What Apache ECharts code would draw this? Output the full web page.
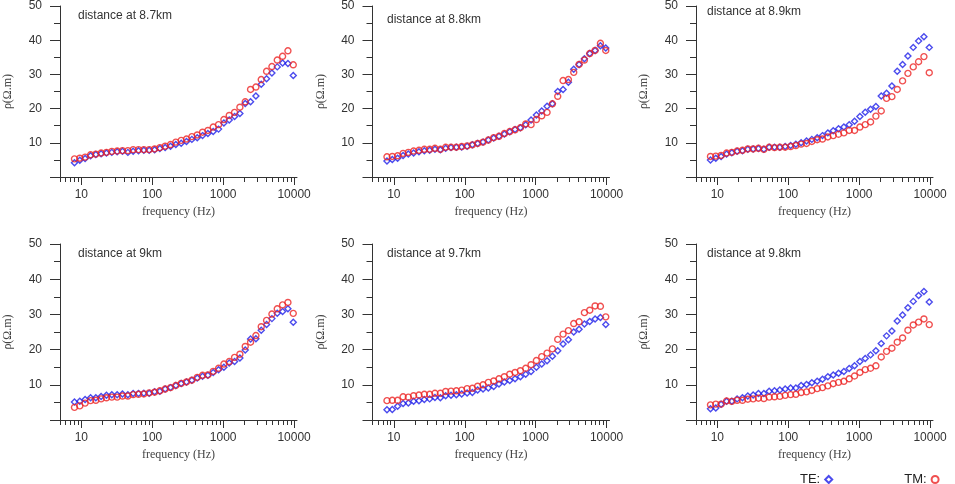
<!DOCTYPE html>
<html>
<head>
<meta charset="utf-8">
<script src="https://cdn.jsdelivr.net/npm/echarts@6/dist/echarts.min.js"></script>
<style>
  html, body { margin: 0; padding: 0; background: #fff; }
  #chart { width: 955px; height: 484px; }
</style>
</head>
<body>
<div id="chart"></div>
<script>
// frequencies (Hz), shared by every panel
const freq = [8, 9.51, 11.3, 13.5, 16, 19, 22.6, 26.9, 32, 38, 45.3, 53.8, 64, 76.1, 90.5, 108, 128, 152, 181, 215,
  256, 304, 362, 431, 512, 609, 724, 861, 1024, 1218, 1448, 1722, 2048, 2435, 2896, 3444, 4096, 4871, 5793, 6889, 8192, 9742]

const titles = ['distance at 8.7km', 'distance at 8.8km', 'distance at 8.9km',
  'distance at 9km', 'distance at 9.7km', 'distance at 9.8km']

// apparent resistivity, TE mode
const te87 = [4.2, 4.9, 5.4, 6.2, 6.6, 6.8, 7.0, 7.2, 7.4, 7.5, 7.2, 7.5, 7.7, 7.8, 7.8, 8.0, 8.3, 8.6, 9.0, 9.5,
  9.9, 10.4, 11.0, 11.5, 12.1, 12.7, 13.3, 14.0, 15.8, 16.7, 17.7, 18.6, 21.5, 22.0, 23.7, 27.1, 28.7, 30.4, 32.2, 33.3, 33.2, 29.7]
const te88 = [4.7, 5.1, 5.5, 6.3, 6.7, 7.0, 7.4, 7.7, 7.8, 8.1, 8.0, 8.4, 8.6, 8.7, 8.8, 9.0, 9.4, 9.8, 10.2, 10.8,
  11.4, 11.9, 12.6, 13.2, 13.9, 14.4, 15.3, 16.7, 18.1, 19.3, 20.7, 21.4, 25.0, 25.6, 27.7, 31.5, 32.9, 34.6, 36.1, 37.0, 38.4, 37.7]
const te89 = [5.0, 5.5, 6.0, 6.7, 7.1, 7.5, 7.7, 8.1, 8.2, 8.3, 8.1, 8.7, 8.7, 8.7, 8.9, 9.2, 9.6, 10.0, 10.5, 11.0,
  11.5, 12.1, 12.9, 13.5, 14.1, 14.6, 15.3, 16.3, 17.7, 18.9, 19.8, 20.6, 23.7, 24.5, 26.6, 30.9, 32.9, 35.4, 37.9, 39.8, 41.0, 37.9]
const te90 = [5.1, 5.3, 5.8, 6.3, 6.3, 6.7, 7.0, 7.2, 7.2, 7.4, 7.2, 7.5, 7.5, 7.6, 7.6, 8.0, 8.2, 8.8, 9.2, 9.8,
  10.4, 10.8, 11.3, 11.9, 12.4, 12.7, 13.5, 14.3, 15.0, 16.2, 16.6, 17.6, 19.9, 23.0, 23.1, 25.5, 27.1, 28.8, 30.3, 30.8, 31.6, 27.8]
const te97 = [2.9, 3.0, 3.9, 4.7, 4.8, 5.3, 5.5, 5.8, 6.0, 6.4, 6.3, 6.9, 7.0, 7.2, 7.4, 7.7, 7.8, 8.5, 8.8, 9.1,
  9.5, 10.2, 10.8, 11.2, 11.7, 12.3, 13.0, 13.8, 15.0, 15.9, 16.8, 18.1, 19.7, 21.6, 22.8, 25.0, 25.8, 27.3, 28.0, 28.7, 29.1, 27.1]
const te98 = [3.2, 3.4, 4.5, 5.3, 5.3, 6.0, 6.3, 6.8, 7.1, 7.5, 7.5, 8.2, 8.3, 8.5, 8.8, 9.1, 9.1, 9.8, 10.1, 10.6,
  11.0, 11.6, 12.3, 12.8, 13.3, 13.8, 14.6, 15.4, 16.6, 17.5, 18.5, 19.7, 21.7, 23.9, 25.3, 28.1, 29.8, 31.9, 33.7, 35.4, 36.5, 33.5]

// apparent resistivity, TM mode
const tm87 = [5.3, 5.5, 5.8, 6.5, 6.7, 7.0, 7.2, 7.5, 7.6, 7.7, 7.7, 8.0, 8.0, 8.0, 8.0, 8.2, 8.6, 9.0, 9.5, 10.2,
  10.7, 11.1, 11.8, 12.3, 13.1, 13.6, 14.6, 15.3, 16.8, 18.0, 18.9, 20.4, 22.0, 25.6, 26.3, 28.5, 30.9, 32.3, 34.2, 35.3, 36.9, 32.8]
const tm88 = [5.9, 6.0, 6.2, 6.9, 7.2, 7.6, 7.8, 8.1, 8.1, 8.4, 8.1, 8.7, 8.7, 8.7, 8.9, 9.1, 9.4, 9.8, 10.2, 10.8,
  11.5, 11.9, 12.7, 13.3, 13.8, 14.4, 15.5, 15.3, 16.8, 17.9, 18.9, 21.4, 23.6, 28.2, 28.5, 30.6, 32.9, 34.2, 36.1, 37.0, 39.1, 37.0]
const tm89 = [6.0, 6.1, 6.3, 7.0, 7.2, 7.6, 7.8, 8.2, 8.2, 8.4, 8.1, 8.7, 8.6, 8.7, 8.7, 8.9, 9.2, 9.6, 9.8, 10.4,
  10.9, 11.1, 11.7, 12.1, 12.5, 12.9, 13.6, 13.6, 14.6, 15.3, 16.1, 17.8, 19.3, 23.0, 23.5, 25.6, 28.1, 30.3, 32.2, 33.7, 35.2, 30.5]
const tm90 = [3.6, 4.0, 4.8, 5.5, 5.6, 6.0, 6.3, 6.5, 6.5, 6.8, 6.8, 7.2, 7.3, 7.4, 7.7, 7.9, 8.3, 8.8, 9.2, 9.8,
  10.4, 10.8, 11.3, 12.1, 12.7, 12.8, 13.8, 14.7, 15.9, 16.6, 17.8, 18.7, 20.9, 22.1, 24.0, 26.5, 28.3, 30.1, 31.6, 32.7, 33.4, 30.3]
const tm97 = [5.5, 5.6, 5.6, 6.6, 6.5, 6.9, 7.1, 7.3, 7.3, 7.6, 7.6, 8.1, 8.2, 8.3, 8.5, 8.9, 9.0, 9.6, 10.0, 10.7,
  11.1, 11.7, 12.3, 13.0, 13.5, 14.0, 14.7, 15.7, 16.9, 18.0, 19.0, 20.2, 22.9, 24.4, 25.4, 27.4, 27.9, 30.5, 31.2, 32.4, 32.3, 29.3]
const tm98 = [4.3, 4.5, 4.5, 5.4, 5.3, 5.6, 5.6, 5.9, 6.0, 6.2, 6.1, 6.5, 6.6, 6.7, 7.0, 7.2, 7.3, 7.8, 8.0, 8.4,
  8.9, 9.2, 9.7, 10.3, 10.7, 11.0, 11.7, 12.5, 13.5, 14.3, 14.7, 15.4, 17.9, 19.5, 20.4, 22.1, 23.3, 25.5, 27.0, 27.8, 28.7, 27.1]

const teSets = [te87, te88, te89, te90, te97, te98]
const tmSets = [tm87, tm88, tm89, tm90, tm97, tm98]

// axis ticks
const xMajor = [10, 100, 1000, 10000]
const xMinor = [5, 6, 7, 8, 9, 20, 30, 40, 50, 60, 70, 80, 90, 200, 300, 400, 500, 600, 700, 800, 900,
  2000, 3000, 4000, 5000, 6000, 7000, 8000, 9000]

// layout
const gridLefts = [60, 372.5, 696]
const gridTops = [2, 244]
const gridHeights = [175, 176]
const gridWidth = 237
const titlePos = [[78, 10], [387, 14], [707, 6], [78, 248], [387, 248], [707, 248]]

const TE_COLOR = '#1e1ee8'
const TM_COLOR = '#ec2424'
const SANS = "'Liberation Sans', Arial, sans-serif"
const SERIF = "'Liberation Serif', 'Times New Roman', serif"

const chart = echarts.init(document.getElementById('chart'), null, { renderer: 'canvas' })

const grid = [], xAxis = [], yAxis = [], series = [], title = []

for (let i = 0; i < 6; i++) {
  const row = Math.floor(i / 3), col = i % 3
  grid.push({ left: gridLefts[col], top: gridTops[row], width: gridWidth, height: gridHeights[row] })

  title.push({
    text: titles[i], left: titlePos[i][0], top: titlePos[i][1], padding: 0,
    textStyle: { fontFamily: SANS, fontSize: 12, fontWeight: 'normal', color: '#333' }
  })

  // main log axis: decades + labels
  xAxis.push({
    type: 'log', logBase: 10, gridIndex: i, min: 5, max: 11000, position: 'bottom',
    axisLine: { show: true, lineStyle: { color: '#333', width: 1 } },
    axisTick: { show: true, length: 8, customValues: xMajor, lineStyle: { color: '#333' } },
    axisLabel: {
      fontFamily: SANS, fontSize: 12, color: '#333', margin: 12,
      customValues: xMajor,
      formatter: v => String(Math.round(v))
    },
    splitLine: { show: false },
    name: 'frequency (Hz)', nameLocation: 'middle', nameGap: 29,
    nameTextStyle: { fontFamily: SERIF, fontSize: 12, color: '#444' }
  })
  // second log axis only for the 2..9 minor ticks
  xAxis.push({
    type: 'log', logBase: 10, gridIndex: i, min: 5, max: 11000, position: 'bottom',
    axisLine: { show: false },
    axisTick: { show: true, length: 5, customValues: xMinor, lineStyle: { color: '#333' } },
    axisLabel: { show: false },
    splitLine: { show: false }
  })

  yAxis.push({
    type: 'value', gridIndex: i, min: 0, max: 50, interval: 10,
    axisLine: { show: true, lineStyle: { color: '#333', width: 1 } },
    axisTick: { show: true, length: 10, lineStyle: { color: '#333' } },
    minorTick: { show: true, splitNumber: 2, length: 6, lineStyle: { color: '#333' } },
    axisLabel: {
      fontFamily: SANS, fontSize: 12, color: '#333', margin: 18,
      formatter: v => v === 0 ? '' : String(v)
    },
    splitLine: { show: false },
    name: 'ρ(Ω.m)', nameLocation: 'middle', nameGap: 46,
    nameTextStyle: { fontFamily: SERIF, fontSize: 12, color: '#444' }
  })

  series.push({
    name: 'TE:', type: 'scatter', xAxisIndex: 2 * i, yAxisIndex: i,
    symbol: 'diamond', symbolSize: 6,
    itemStyle: { color: 'rgba(0,0,0,0)', borderColor: TE_COLOR, borderWidth: 1.4 },
    data: freq.map((f, k) => [f, teSets[i][k]])
  })
  series.push({
    name: 'TM:', type: 'scatter', xAxisIndex: 2 * i, yAxisIndex: i,
    symbol: 'circle', symbolSize: 6,
    itemStyle: { color: 'rgba(0,0,0,0)', borderColor: TM_COLOR, borderWidth: 1.4 },
    data: freq.map((f, k) => [f, tmSets[i][k]])
  })
}

const option = {
  animation: false,
  backgroundColor: '#fff',
  title,
  grid,
  xAxis,
  yAxis,
  legend: {
    data: ['TE:', 'TM:'],
    left: 795, top: 468,
    align: 'right',
    itemGap: 71, itemWidth: 7, itemHeight: 7,
    selectedMode: false,
    textStyle: { fontFamily: SANS, fontSize: 13, color: '#222' }
  },
  series
}

chart.setOption(option)
</script>
</body>
</html>
